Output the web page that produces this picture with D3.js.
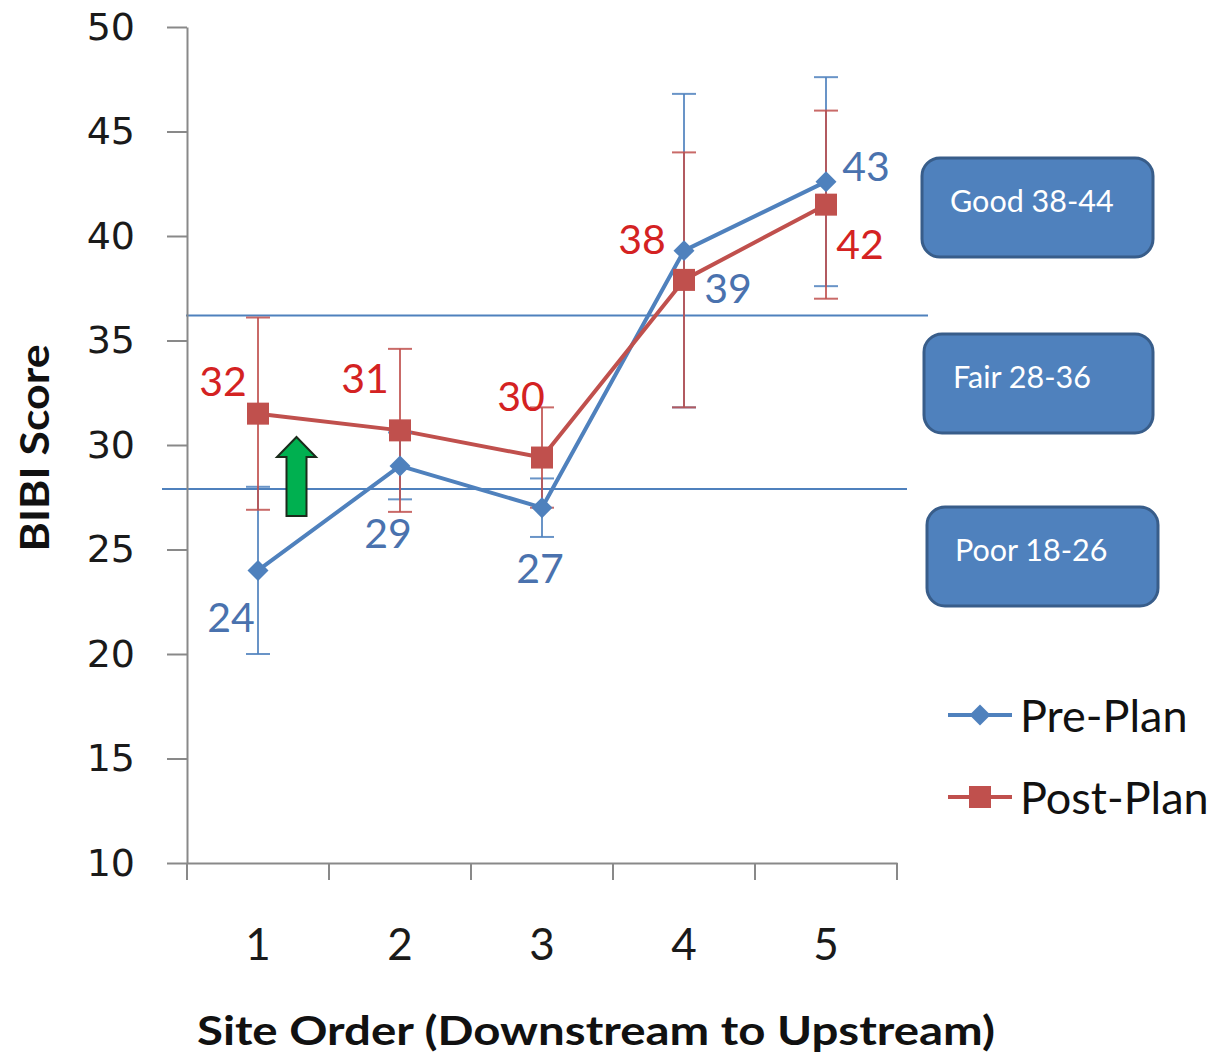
<!DOCTYPE html>
<html><head><meta charset="utf-8">
<script src="https://cdn.jsdelivr.net/npm/d3@7"></script>
<style>body{margin:0;background:#fff} svg{display:block}</style>
</head><body>
<svg id="c" width="1210" height="1054"></svg>
<script>
// ---- data ----
const sites = ["1","2","3","4","5"];
const preValues = [24.0, 29.0, 27.0, 39.3, 42.6];
const preErr = [4.0, 1.6, 1.4, 7.5, 5.0];
const preLabels = ["24","29","27","39","43"];
const postValues = [31.5, 30.7, 29.4, 37.9, 41.5];
const postErr = [4.6, 3.9, 2.4, 6.1, 4.5];
const postLabels = ["32","31","30","38","42"];
const yTicks = [10,15,20,25,30,35,40,45,50];
const thresholds = [36.2, 27.9];
const ratingBoxes = ["Good 38-44","Fair 28-36","Poor 18-26"];
const seriesNames = ["Pre-Plan","Post-Plan"];

// ---- layout / styles ----
const BLUE = "#4F81BD", RED = "#C0504D", AX = "#898989";
const svg = d3.select("#c");
const x = d3.scaleBand().domain(sites).range([187, 897]).padding(0);
const cx = s => x(s) + x.bandwidth()/2;
const y = d3.scaleLinear().domain([10, 50]).range([863, 27]);

// threshold lines
const thrExtent = [[186, 928],[162, 907]];
thresholds.forEach((t,i)=>{
  svg.append("line").attr("x1",thrExtent[i][0]).attr("x2",thrExtent[i][1])
    .attr("y1",y(t)).attr("y2",y(t)).attr("stroke",BLUE).attr("stroke-width",2);
});

// y axis
const ya = svg.append("g").attr("transform","translate(187,0)")
  .call(d3.axisLeft(y).tickValues(yTicks).tickSize(20).tickSizeOuter(0).tickPadding(32));
ya.select(".domain").attr("stroke",AX).attr("stroke-width",2);
ya.selectAll(".tick line").attr("stroke",AX).attr("stroke-width",2);
ya.selectAll(".tick text").attr("font-family","DejaVu Sans").attr("font-size",38).attr("fill","#1a1a1a");

// x axis
const xa = svg.append("g").attr("transform","translate(0,863)")
  .call(d3.axisBottom(x).tickSize(0).tickPadding(66));
xa.select(".domain").attr("stroke",AX).attr("stroke-width",2);
xa.selectAll(".tick text").attr("font-family","Lato").attr("font-size",44).attr("fill","#1a1a1a");
const bounds = sites.map(s=>x(s)).concat([x.range()[1]]);
xa.selectAll("line.b").data(bounds).join("line").attr("class","b")
  .attr("x1",d=>d).attr("x2",d=>d).attr("y1",0).attr("y2",17)
  .attr("stroke",AX).attr("stroke-width",2);

// series lines
const line = d3.line().x((d,i)=>cx(sites[i])).y(d=>y(d));
svg.append("path").datum(preValues).attr("d",line).attr("fill","none").attr("stroke",BLUE).attr("stroke-width",4).attr("stroke-linejoin","round");
svg.append("path").datum(postValues).attr("d",line).attr("fill","none").attr("stroke",RED).attr("stroke-width",4).attr("stroke-linejoin","round");

// error bars
function errBars(vals, errs, color){
  const g = svg.append("g").attr("stroke",color).attr("stroke-width",2).attr("stroke-opacity",0.85);
  vals.forEach((v,i)=>{
    const X = cx(sites[i]);
    g.append("line").attr("x1",X).attr("x2",X).attr("y1",y(v+errs[i])).attr("y2",y(v-errs[i]));
    [v+errs[i], v-errs[i]].forEach(e=>{
      g.append("line").attr("x1",X-12).attr("x2",X+12).attr("y1",y(e)).attr("y2",y(e));
    });
  });
}
errBars(preValues, preErr, BLUE);
errBars(postValues, postErr, RED);

// markers
svg.selectAll("path.dia").data(preValues).join("path").attr("class","dia")
  .attr("d",d3.symbol(d3.symbolDiamond2, 280)).attr("transform",(d,i)=>`translate(${cx(sites[i])},${y(d)})`)
  .attr("fill",BLUE);
svg.selectAll("rect.sq").data(postValues).join("rect").attr("class","sq")
  .attr("x",(d,i)=>cx(sites[i])-11).attr("y",d=>y(d)-11).attr("width",22).attr("height",22)
  .attr("fill",RED);

// data labels
const preOff = [[-27,46],[-12,67],[-2,60],[44,37],[40,-16]];
const postOff = [[-35,-33],[-35,-53],[-21,-62],[-42,-41],[34,39]];
svg.selectAll("text.pl").data(preValues).join("text").attr("class","pl")
  .attr("x",(d,i)=>cx(sites[i])+preOff[i][0]).attr("y",(d,i)=>y(d)+preOff[i][1])
  .attr("text-anchor","middle").attr("dominant-baseline","central")
  .attr("font-family","Lato").attr("font-size",41).attr("fill","#4A72AE").text((d,i)=>preLabels[i]);
svg.selectAll("text.ql").data(postValues).join("text").attr("class","ql")
  .attr("x",(d,i)=>cx(sites[i])+postOff[i][0]).attr("y",(d,i)=>y(d)+postOff[i][1])
  .attr("text-anchor","middle").attr("dominant-baseline","central")
  .attr("font-family","Lato").attr("font-size",41).attr("fill","#D42222").text((d,i)=>postLabels[i]);

// green arrow
svg.append("path")
  .attr("d","M296.5,437 L316,457 L306.5,457 L306.5,516 L286.5,516 L286.5,457 L277,457 Z")
  .attr("fill","#00B050").attr("stroke","#1b2b1b").attr("stroke-width",2).attr("stroke-linejoin","miter");

// rating boxes
const boxGeom = [[922,158,231,99],[924,334,229,99],[927,507,231,99]];
const boxText = [[950,200],[953,376],[955,549]];
ratingBoxes.forEach((t,i)=>{
  const [bx,by,bw,bh] = boxGeom[i];
  svg.append("rect").attr("x",bx).attr("y",by).attr("width",bw).attr("height",bh)
    .attr("rx",18).attr("fill",BLUE).attr("stroke","#385D8A").attr("stroke-width",3);
  svg.append("text").attr("x",boxText[i][0]).attr("y",boxText[i][1]).attr("dominant-baseline","central")
    .attr("font-family","Lato").attr("font-size",30.5).attr("fill","#fff").text(t);
});

// legend
const legY = [715, 797];
seriesNames.forEach((n,i)=>{
  const col = i===0?BLUE:RED;
  svg.append("line").attr("x1",948).attr("x2",1012).attr("y1",legY[i]).attr("y2",legY[i]).attr("stroke",col).attr("stroke-width",4);
  if(i===0){
    svg.append("path").attr("d",d3.symbol(d3.symbolDiamond2,280)).attr("transform",`translate(980,${legY[i]})`).attr("fill",col);
  } else {
    svg.append("rect").attr("x",969).attr("y",legY[i]-11).attr("width",22).attr("height",22).attr("fill",col);
  }
  svg.append("text").attr("x",1020).attr("y",legY[i]).attr("dominant-baseline","central")
    .attr("font-family","Lato").attr("font-size",45).attr("fill","#111").text(n);
});

// axis titles
svg.append("text").attr("transform","translate(34,448) rotate(-90)").attr("text-anchor","middle")
  .attr("dominant-baseline","central").attr("font-family","Lato").attr("font-weight","bold")
  .attr("font-size",40).attr("fill","#111").attr("textLength",207).attr("lengthAdjust","spacingAndGlyphs").text("BIBI Score");
svg.append("text").attr("x",596).attr("y",1030).attr("text-anchor","middle")
  .attr("dominant-baseline","central").attr("font-family","Lato").attr("font-weight","bold")
  .attr("font-size",40).attr("fill","#111").attr("textLength",798).attr("lengthAdjust","spacingAndGlyphs")
  .text("Site Order (Downstream to Upstream)");
</script>
</body></html>
